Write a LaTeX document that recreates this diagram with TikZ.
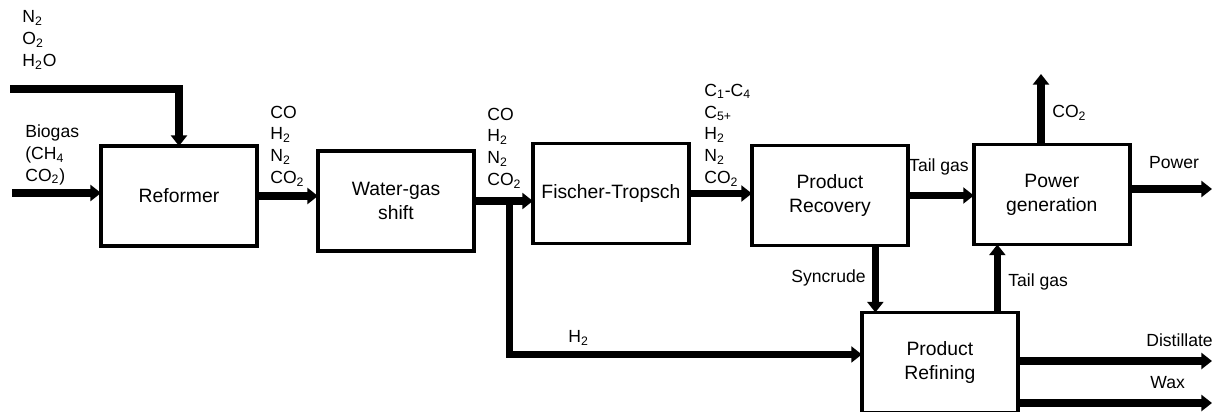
\documentclass[tikz,border=0pt]{standalone}
\usepackage{fontspec}
\setmainfont{Liberation Sans}
\usetikzlibrary{arrows.meta,positioning,calc}

\begin{document}
\begin{tikzpicture}[
    x=0.02cm, y=-0.02cm,
    node distance=1.2cm,
    unit/.style={rectangle, draw, line width=2pt, outer sep=0pt, minimum width=3.12cm, minimum height=2cm, align=center, font=\fontsize{11}{13.6}\selectfont},
    stream/.style={inner sep=0pt, align=left, font=\fontsize{10}{12.4}\selectfont},
    flow/.style={line width=4pt, -{Triangle[length=6pt,width=9pt]}}
]
    \useasboundingbox (0,0) rectangle (1217,412);

    \node[unit] (reformer) at (179,196) {Reformer};
    \node[unit, right=1.22cm of reformer, yshift=-0.1cm] (shift) {Water-gas\\shift};
    \node[unit, right=1.18cm of shift, yshift=0.15cm] (ft) {Fischer-Tropsch};
    \node[unit, right=1.26cm of ft, yshift=-0.04cm] (recovery) {Product\\Recovery};
    \node[unit, right=1.32cm of recovery, yshift=0.02cm] (power) {Power\\generation};
    \node[unit, below=1.34cm of recovery, xshift=2.2cm] (refining) {Product\\Refining};

    \coordinate (airin) at (10,89);
    \coordinate (biogasin) at (12,193);
    \coordinate (split) at ($(shift.east)!0.61!(shift.east -| ft.west)$);
    \coordinate (co2out) at (1041,74);
    \coordinate (powerout) at (1212,189);
    \coordinate (distout) at (1212,361);
    \coordinate (waxout) at (1212,403);

    \draw[flow] (airin) -| (reformer.north);
    \draw[flow] (biogasin) -- (biogasin -| reformer.west);
    \draw[flow] (reformer.east) -- (reformer.east -| shift.west);
    \draw[flow] (shift.east) -- (shift.east -| ft.west);
    \draw[flow] (split) |- ([yshift=0.16cm]refining.west);
    \draw[flow] (ft.east) -- (ft.east -| recovery.west);
    \draw[flow] (recovery.east) -- (recovery.east -| power.west);
    \draw[flow] ([xshift=0.91cm]recovery.south) -- ([xshift=0.91cm]recovery.south |- refining.north);
    \draw[flow] ([xshift=1.15cm]refining.north) -- ([xshift=1.15cm]refining.north |- power.south);
    \draw[flow] (power.north -| co2out) -- (co2out);
    \draw[flow] (power.east |- powerout) -- (powerout);
    \draw[flow] (refining.east |- distout) -- (distout);
    \draw[flow] (refining.east |- waxout) -- (waxout);

    \node[stream, anchor=west] (airlbl) at (22,40) {N\textsubscript{2}\\O\textsubscript{2}\\H\textsubscript{2}O};
    \node[stream, anchor=west] (biogaslbl) at (25,155) {Biogas\\(CH\textsubscript{4}\\CO\textsubscript{2})};
    \node[stream, anchor=west] (syngaslbl) at (270,146) {CO\\H\textsubscript{2}\\N\textsubscript{2}\\CO\textsubscript{2}};
    \node[stream, anchor=west] (shiftedlbl) at (487,148) {CO\\H\textsubscript{2}\\N\textsubscript{2}\\CO\textsubscript{2}};
    \node[stream, anchor=west] (ftlbl) at (704,135) {C\textsubscript{1}-C\textsubscript{4}\\C\textsubscript{5+}\\H\textsubscript{2}\\N\textsubscript{2}\\CO\textsubscript{2}};
    \node[stream, anchor=west] (hydrogenlbl) at (568,338) {H\textsubscript{2}};
    \node[stream] (tailgaslbl) at (939,167) {Tail gas};
    \node[stream, anchor=west] (co2lbl) at (1052,113) {CO\textsubscript{2}};
    \node[stream] (powerlbl) at (1174,163) {Power};
    \node[stream, anchor=east] (syncrudelbl) at (866,278) {Syncrude};
    \node[stream, anchor=west] (refinedgaslbl) at (1008,282) {Tail gas};
    \node[stream, anchor=west] (distlbl) at (1146,340) {Distillate};
    \node[stream, anchor=west] (waxlbl) at (1150,383) {Wax};
\end{tikzpicture}
\end{document}
